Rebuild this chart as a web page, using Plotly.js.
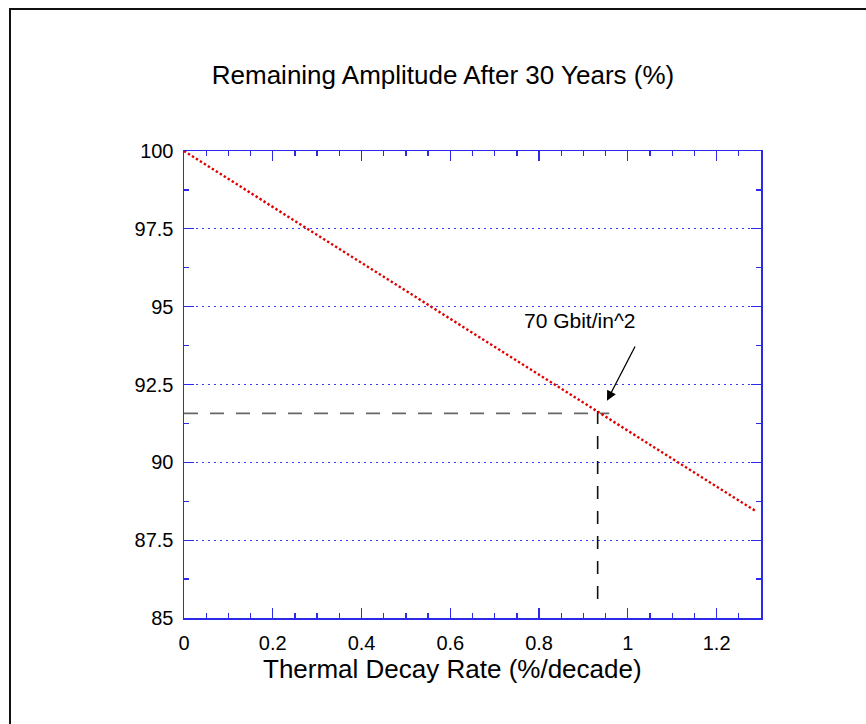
<!DOCTYPE html>
<html>
<head>
<meta charset="utf-8">
<script src="https://cdn.plot.ly/plotly-3.0.1.min.js"></script>
<style>
html,body{margin:0;padding:0;background:#fff;}
#chart{width:866px;height:724px;}
#frame{position:absolute;left:9px;top:8px;width:900px;height:800px;border-top:2px solid #111;border-left:2px solid #111;pointer-events:none;}
</style>
</head>
<body>
<div id="chart"></div>
<div id="frame"></div>
<script>
// Remaining amplitude vs thermal decay rate
const decayRate = [0, 0.2, 0.4, 0.6, 0.8, 1.0, 1.2, 1.29];
const amplitude = [100, 98.2, 96.41, 94.61, 92.82, 91.02, 89.22, 88.42];

// Reference (dashed) lines for the 70 Gbit/in^2 point
const markX = 0.932;
const markY = 91.57;
const hLineX = [0, 0.958];
const hLineY = [markY, markY];
const vLineX = [markX, markX];
const vLineY = [91.65, 85.5];

// Arrow: tail and head (data coordinates)
const arrowTail = [1.018, 93.77];
const arrowHead = [0.953, 91.98];

const xTicks = [0, 0.2, 0.4, 0.6, 0.8, 1, 1.2];
const xTickText = ['0', '0.2', '0.4', '0.6', '0.8', '1', '1.2'];
const yTicks = [85, 87.5, 90, 92.5, 95, 97.5, 100];
const yTickText = ['85', '87.5', '90', '92.5', '95', '97.5', '100'];

const annoText = '70 Gbit/in^2';
const annoPos = [0.89, 94.57];
const titleText = 'Remaining Amplitude After 30 Years (%)';
const xTitleText = 'Thermal Decay Rate (%/decade)';

const axisBlue = '#2a2ae8';
const font = 'Liberation Sans, Arial, sans-serif';

const traces = [
  {x: hLineX, y: hLineY, mode: 'lines', line: {color: '#666666', width: 1.8, dash: '14px,12px'}, hoverinfo: 'skip'},
  {x: vLineX, y: vLineY, mode: 'lines', line: {color: '#111111', width: 1.6, dash: '13px,12px'}, hoverinfo: 'skip'},
  {x: decayRate, y: amplitude, mode: 'lines', line: {color: '#e00000', width: 2.4, dash: '2.4px,2.3px'}}
];

const W = 866, H = 724;
const M = {l: 184, r: 105, t: 151, b: 106};
const pw = W - M.l - M.r, ph = H - M.t - M.b;

const layout = {
  width: W, height: H,
  margin: M,
  paper_bgcolor: '#fff', plot_bgcolor: '#fff',
  showlegend: false,
  font: {family: font, color: '#000', size: 20},
  title: {text: titleText, font: {family: font, size: 26, color: '#000'}, x: 443/W, xanchor: 'center', y: 1 - 75/H, yanchor: 'middle'},
  xaxis: {
    range: [0, 1.3], tickmode: 'array', tickvals: xTicks, ticktext: xTickText,
    ticks: 'inside', ticklen: 10, tickwidth: 1.3, tickcolor: axisBlue,
    showline: true, linecolor: axisBlue, linewidth: 1.5, mirror: 'ticks',
    showgrid: false, zeroline: false,
    minor: {ticks: 'inside', dtick: 0.05, ticklen: 5, tickwidth: 1.3, tickcolor: axisBlue, showgrid: false},
    tickfont: {size: 20, family: font, color: '#000'},
    ticklabelstandoff: 6
  },
  yaxis: {
    range: [85, 100], tickmode: 'array', tickvals: yTicks, ticktext: yTickText,
    ticks: 'inside', ticklen: 10, tickwidth: 1.3, tickcolor: axisBlue,
    showline: true, linecolor: axisBlue, linewidth: 1.5, mirror: 'ticks',
    showgrid: true, gridcolor: '#3a3aff', gridwidth: 1, griddash: '2px,4px', zeroline: false,
    minor: {ticks: 'inside', dtick: 1.25, ticklen: 5, tickwidth: 1.3, tickcolor: axisBlue, showgrid: false},
    tickfont: {size: 20, family: font, color: '#000'},
    ticklabelstandoff: 5
  },
  annotations: [
    {x: arrowHead[0], y: arrowHead[1], ax: arrowTail[0], ay: arrowTail[1], axref: 'x', ayref: 'y',
     text: '', showarrow: true, arrowhead: 2, arrowsize: 1.5, arrowwidth: 1.3, arrowcolor: '#000'},
    {x: annoPos[0], y: annoPos[1], text: annoText, showarrow: false, xanchor: 'center', yanchor: 'middle',
     font: {size: 21, family: font, color: '#000'}},
    {xref: 'paper', yref: 'paper', x: (452 - M.l) / pw, y: -(669 - M.t - ph) / ph,
     text: xTitleText, showarrow: false, xanchor: 'center', yanchor: 'middle',
     font: {size: 26, family: font, color: '#000'}}
  ]
};

Plotly.newPlot('chart', traces, layout, {displayModeBar: false, staticPlot: true});
</script>
</body>
</html>
